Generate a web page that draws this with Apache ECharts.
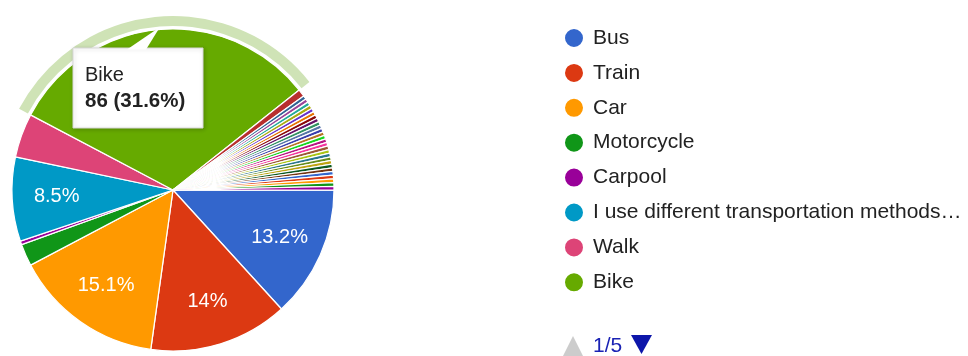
<!DOCTYPE html>
<html>
<head>
<meta charset="utf-8">
<script src="https://cdn.jsdelivr.net/npm/echarts@6/dist/echarts.min.js"></script>
<style>
  html, body { margin: 0; padding: 0; background: #fff; }
  #chart { width: 968px; height: 356px; }
</style>
</head>
<body>
<div id="chart"></div>
<script>
// Named answer options and their response counts
const categories = ['Bus', 'Train', 'Car', 'Motorcycle', 'Carpool',
  'I use different transportation methods…', 'Walk', 'Bike'];
const responses = [36, 38, 41, 6, 1, 23, 12, 86];

// Free-text "Other" answers, one slice each
const otherAnswers = [
  'Other 1', 'Other 2', 'Other 3', 'Other 4', 'Other 5', 'Other 6', 'Other 7',
  'Other 8', 'Other 9', 'Other 10', 'Other 11', 'Other 12', 'Other 13', 'Other 14',
  'Other 15', 'Other 16', 'Other 17', 'Other 18', 'Other 19', 'Other 20', 'Other 21',
  'Other 22', 'Other 23', 'Other 24', 'Other 25', 'Other 26', 'Other 27', 'Other 28'
];
const otherResponses = [2, 1, 1, 1, 1, 1, 1, 1, 1, 1, 1, 1, 1, 1,
  1, 1, 1, 1, 1, 1, 1, 1, 1, 1, 1, 1, 1, 1];

// Slice with the open hover card
const highlighted = 'Bike';
const legendPageSize = 8;

const palette = ['#3366cc', '#dc3912', '#ff9900', '#109618', '#990099', '#0099c6',
  '#dd4477', '#66aa00', '#b82e2e', '#316395', '#994499', '#22aa99', '#aaaa11',
  '#6633cc', '#e67300', '#8b0707', '#651067', '#329262', '#5574a6', '#3b3eac',
  '#b77322', '#16d620', '#b91383', '#f4359e', '#9c5935', '#a9c413', '#2a778d',
  '#668d1c', '#bea413', '#0c5922', '#743411'];

const names = categories.concat(otherAnswers);
const values = responses.concat(otherResponses);
const total = values.reduce((a, b) => a + b, 0);
const pct = v => +(v / total * 100).toFixed(1);

const center = [173, 190];
const R = 161;
const font = '"Liberation Sans", Arial, sans-serif';

const slices = (colorOf) => names.map((n, i) => ({
  name: n, value: values[i], itemStyle: { color: colorOf(n, i) }
}));

const hiIdx = names.indexOf(highlighted);
const pageCount = Math.ceil(names.length / legendPageSize);
const CARD_Z = 100;

const chart = echarts.init(document.getElementById('chart'), null, { renderer: 'canvas' });
chart.setOption({
  animation: false,
  backgroundColor: '#fff',
  legend: {
    orient: 'vertical',
    left: 563,
    top: 27,
    padding: 0,
    data: names.slice(0, legendPageSize),
    icon: 'circle',
    itemWidth: 20,
    itemHeight: 20,
    itemGap: 12.9,
    selectedMode: false,
    textStyle: {
      fontFamily: font, fontSize: 21, color: '#222',
      padding: [0, 0, 0, 4]
    }
  },
  series: [
    {
      type: 'pie',
      center: center,
      radius: [0, R],
      startAngle: 0,
      clockwise: true,
      data: slices((n, i) => palette[i % palette.length]),
      itemStyle: { borderColor: '#fff', borderWidth: 1.25 },
      label: { show: false },
      labelLine: { show: false },
      emphasis: { disabled: true }
    },
    {
      // hover ring around the highlighted slice
      type: 'pie',
      center: center,
      radius: [R + 3, R + 13],
      startAngle: 0,
      clockwise: true,
      silent: true,
      legendHoverLink: false,
      data: slices(n => n === highlighted ? '#cfe3b6' : 'rgba(0,0,0,0)'),
      label: { show: false },
      labelLine: { show: false },
      emphasis: { disabled: true }
    },
    {
      // percentage labels
      type: 'pie',
      center: center,
      radius: [66, R],
      startAngle: 0,
      clockwise: true,
      silent: true,
      legendHoverLink: false,
      data: slices(() => 'rgba(0,0,0,0)'),
      label: {
        show: true,
        position: 'inside',
        formatter: p => pct(p.value) >= 5 ? pct(p.value) + '%' : '',
        color: '#fff',
        fontFamily: font,
        fontSize: 20
      },
      labelLine: { show: false },
      emphasis: { disabled: true }
    }
  ],
  graphic: [
    {
      type: 'rect',
      z: CARD_Z,
      shape: { x: 73, y: 48, width: 130, height: 80 },
      style: {
        fill: '#fff', stroke: '#d8d8d8', lineWidth: 1,
        shadowBlur: 4, shadowColor: 'rgba(0,0,0,0.2)', shadowOffsetX: 1, shadowOffsetY: 1
      }
    },
    {
      type: 'polygon',
      z: CARD_Z + 1,
      shape: { points: [[127, 49.5], [146, 49.5], [160, 27]] },
      style: { fill: '#fff' }
    },
    {
      type: 'text',
      z: CARD_Z + 2,
      style: {
        text: highlighted, x: 85, y: 75, verticalAlign: 'middle',
        font: '20px ' + font, fill: '#222'
      }
    },
    {
      type: 'text',
      z: CARD_Z + 2,
      style: {
        text: values[hiIdx] + ' (' + pct(values[hiIdx]) + '%)',
        x: 85, y: 101, verticalAlign: 'middle',
        font: 'bold 20.5px ' + font, fill: '#222'
      }
    },
    {
      type: 'polygon',
      shape: { points: [[563, 356], [583, 356], [573, 336]] },
      style: { fill: '#cccccc' }
    },
    {
      type: 'text',
      style: {
        text: '1/' + pageCount, x: 593, y: 346, verticalAlign: 'middle',
        font: '21px ' + font, fill: '#1a22b4'
      }
    },
    {
      type: 'polygon',
      shape: { points: [[631, 335], [652, 335], [641.5, 354]] },
      style: { fill: '#0d16aa' }
    }
  ]
});
</script>
</body>
</html>
